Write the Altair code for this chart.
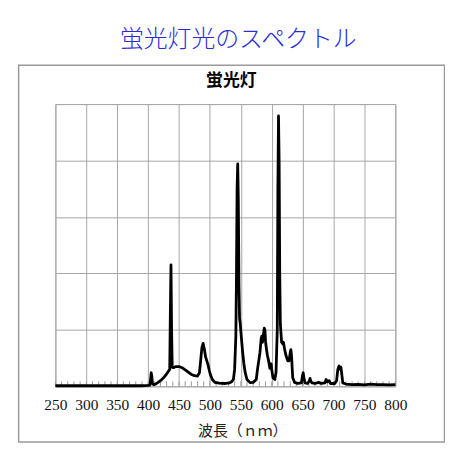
import altair as alt
import pandas as pd

# wavelength (nm) and relative intensity (grid units)
wavelength = [250, 300, 350, 390, 400, 403, 404, 405, 406, 407, 409, 412, 415, 420, 425, 430, 433, 435,
              436, 437, 438, 439, 441, 445, 450, 455, 460, 465, 470, 475, 480, 483, 485, 487, 489, 491,
              493, 495, 497, 499, 501, 504, 508, 515, 525, 532, 535, 538, 540, 542, 543, 544, 545, 546,
              547, 548, 549, 551, 553, 555, 557, 560, 565, 570, 575, 577, 579, 581, 583, 584, 585, 587,
              588, 589, 590, 591, 593, 595, 597, 599, 600, 602, 605, 607, 609, 610, 611, 612, 613, 614,
              616, 618, 619, 621, 623, 626, 628, 630, 631, 632, 634, 637, 642, 648, 650, 651, 652, 654,
              658, 661, 662, 663, 665, 670, 676, 680, 686, 688, 690, 693, 695, 702, 705, 707, 709, 711,
              712, 713, 715, 720, 730, 740, 750, 760, 770, 780, 790, 800]
intensity = [0.01, 0.01, 0.01, 0.01, 0.015, 0.02, 0.12, 0.24, 0.18, 0.05, 0.03, 0.04, 0.06, 0.1, 0.15, 0.22, 0.27, 0.3,
             1.3, 2.15, 1.0, 0.34, 0.33, 0.35, 0.35, 0.33, 0.29, 0.25, 0.21, 0.19, 0.18, 0.24, 0.45, 0.68, 0.76, 0.66,
             0.52, 0.45, 0.38, 0.28, 0.2, 0.12, 0.07, 0.055, 0.05, 0.06, 0.08, 0.12, 0.3, 0.9, 2.0, 3.5, 3.94, 3.3,
             1.8, 1.2, 1.12, 0.85, 0.6, 0.4, 0.25, 0.12, 0.065, 0.07, 0.12, 0.3, 0.45, 0.6, 0.85, 0.89, 0.78, 0.95,
             1.03, 1.0, 0.8, 0.7, 0.55, 0.45, 0.32, 0.4, 0.3, 0.15, 0.12, 0.25, 1.0, 3.5, 4.79, 4.0, 2.0, 1.1,
             0.78, 0.75, 0.78, 0.65, 0.55, 0.45, 0.45, 0.6, 0.65, 0.55, 0.15, 0.07, 0.05, 0.06, 0.2, 0.24, 0.15, 0.06,
             0.05, 0.1, 0.14, 0.1, 0.06, 0.05, 0.07, 0.05, 0.06, 0.12, 0.08, 0.1, 0.05, 0.05, 0.1, 0.3, 0.36, 0.3,
             0.34, 0.25, 0.06, 0.04, 0.03, 0.035, 0.025, 0.04, 0.03, 0.03, 0.025, 0.03]

x_ticks = [250, 300, 350, 400, 450, 500, 550, 600, 650, 700, 750, 800]
minor_ticks = [250, 260, 270, 280, 290, 300, 310, 320, 330, 340, 350, 360, 370, 380, 390, 400, 410, 420,
               430, 440, 450, 460, 470, 480, 490, 500, 510, 520, 530, 540, 550, 560, 570, 580, 590, 600,
               610, 620, 630, 640, 650, 660, 670, 680, 690, 700, 710, 720, 730, 740, 750, 760, 770, 780,
               790, 800]
y_ticks = [0, 1, 2, 3, 4, 5]

main_title = "蛍光灯光のスペクトル"
sub_title = "蛍光灯"
x_title = "波長（ｎｍ）"

W, H = 342, 284
GRID = "#a6a6a6"

df = pd.DataFrame({"wl": wavelength, "v": intensity})
ticks_df = pd.DataFrame({"wl": minor_ticks})

xscale = alt.Scale(domain=[250, 800], nice=False, zero=False)
yscale = alt.Scale(domain=[0, 5], nice=False)

line = alt.Chart(df).mark_line(color="black", strokeWidth=2.8, strokeJoin="round").encode(
    x=alt.X("wl:Q", scale=xscale,
            axis=alt.Axis(values=x_ticks, tickCount=30, grid=True, gridColor=GRID, gridWidth=1,
                          ticks=False, domain=False, labelFont="Liberation Serif", labelFontSize=15.5,
                          labelColor="#111", labelPadding=11, labelFlush=False,
                          labelOverlap=False, labelBound=False,
                          title=x_title, titleFont="Noto Sans CJK JP", titleFontSize=15,
                          titleFontWeight="normal", titleColor="#222",
                          titleX=188, titleY=44, titleBaseline="middle")),
    y=alt.Y("v:Q", scale=yscale,
            axis=alt.Axis(values=y_ticks, tickCount=20, grid=True, gridColor=GRID, gridWidth=1,
                          ticks=False, labels=False, domain=False, title=None)),
)

minor = alt.Chart(ticks_df).mark_rule(color="#9a9a9a", strokeWidth=1).encode(
    x=alt.X("wl:Q", scale=xscale),
    y=alt.value(H - 5),
    y2=alt.value(H),
)

frame = alt.Chart(pd.DataFrame({"a": [0]})).mark_rect(
    fill=None, stroke="#9a9a9a", strokeWidth=1.5
).encode(
    x=alt.value(-37), x2=alt.value(391.5), y=alt.value(-39), y2=alt.value(340)
)

t1 = alt.Chart(pd.DataFrame({"t": [main_title]})).mark_text(
    font="Noto Sans CJK JP", fontSize=24, fontWeight=300, color="#2c2cd6",
    align="center", baseline="middle"
).encode(text="t:N", x=alt.value(184), y=alt.value(-64))

t2 = alt.Chart(pd.DataFrame({"t": [sub_title]})).mark_text(
    font="Noto Sans CJK JP", fontSize=17, fontWeight="bold", color="black",
    align="center", baseline="middle"
).encode(text="t:N", x=alt.value(177), y=alt.value(-23))

chart = alt.layer(frame, minor, line, t1, t2).properties(
    width=W, height=H,
    autosize=alt.AutoSizeParams(type="none"),
    padding={"left": 47.7, "top": 95.3, "right": 50, "bottom": 58},
).configure_view(stroke=GRID, strokeWidth=1)

chart.save("out.html", embed_options={"renderer": "svg", "actions": False})
